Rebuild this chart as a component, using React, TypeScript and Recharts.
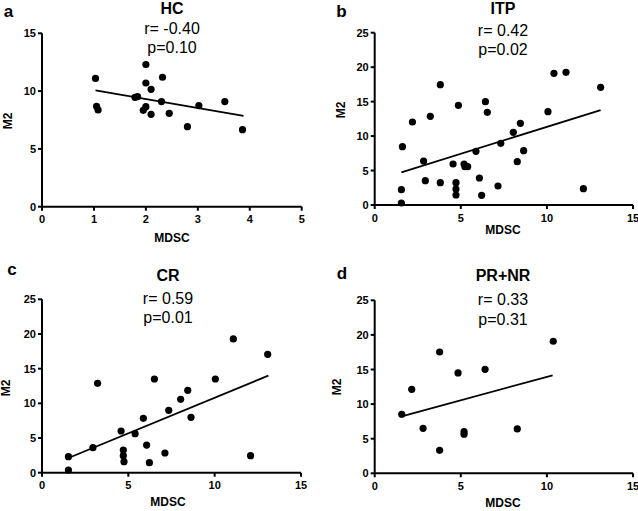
import React from "react";
import { ScatterChart, Scatter, XAxis, YAxis, ReferenceLine } from "recharts";

// panel a: HC
const hcMdsc = [1.03, 1.05, 1.08, 2.0, 2.32, 2.0, 2.1, 1.79, 1.84, 2.3, 2.0, 1.95, 2.1, 2.45, 2.8, 3.02, 3.52, 3.86];
const hcM2 = [11.1, 8.68, 8.37, 12.3, 11.2, 10.7, 10.15, 9.46, 9.52, 9.09, 8.65, 8.34, 7.99, 8.08, 6.92, 8.74, 9.09, 6.66];
const hcFit = [
  { x: 1.03, y: 10.07 },
  { x: 3.88, y: 7.85 },
];

// panel b: ITP
const itpMdsc = [
  1.55, 1.55, 1.61, 2.19, 2.84, 2.94, 3.23, 3.81, 3.81, 4.55, 4.72, 4.72, 4.72, 4.86, 5.19, 5.24, 5.4,
  5.88, 6.08, 6.21, 6.43, 6.54, 7.16, 7.32, 8.05, 8.28, 8.46, 8.65, 10.06, 10.41, 11.11, 12.12, 13.12,
];
const itpM2 = [
  0.29, 2.22, 8.46, 12.04, 6.38, 3.53, 12.86, 17.46, 3.24, 5.95, 3.24, 2.32, 1.45, 14.46, 5.95, 5.56, 5.56,
  7.79, 3.92, 1.4, 14.99, 13.44, 2.76, 8.95, 10.54, 6.29, 11.85, 7.88, 13.54, 19.1, 19.25, 2.37, 17.07,
];
const itpFit = [
  { x: 1.55, y: 4.74 },
  { x: 13.12, y: 13.78 },
];

// panel c: CR
const crMdsc = [
  1.53, 1.53, 2.95, 3.22, 4.58, 4.71, 4.71, 4.75, 5.39, 5.87, 6.06, 6.22, 6.51, 7.12, 7.34, 8.03, 8.44,
  8.63, 10.04, 11.08, 12.08, 13.07,
];
const crM2 = [
  0.38, 2.31, 3.61, 12.88, 6.01, 3.27, 2.45, 1.59, 5.63, 7.84, 3.99, 1.44, 13.51, 2.84, 8.99, 10.58, 11.88,
  7.98, 13.51, 19.28, 2.45, 17.07,
];
const crFit = [
  { x: 1.53, y: 2.12 },
  { x: 13.11, y: 13.99 },
];

// panel d: PR+NR
const prnrMdsc = [1.57, 2.15, 2.81, 3.77, 3.77, 4.84, 5.19, 5.19, 6.41, 8.28, 10.37];
const prnrM2 = [8.53, 12.14, 6.5, 17.53, 3.32, 14.5, 6.02, 5.64, 15.03, 6.41, 19.08];
const prnrFit = [
  { x: 1.57, y: 8.24 },
  { x: 10.33, y: 14.16 },
];

const ticksA_x = [0, 1, 2, 3, 4, 5];
const ticksA_y = [0, 5, 10, 15];
const ticks15 = [0, 5, 10, 15];
const ticks25 = [0, 5, 10, 15, 20, 25];

const toPoints = (xs: number[], ys: number[]) => xs.map((x, i) => ({ x, y: ys[i] }));

const FONT = "'Liberation Sans', Arial, sans-serif";

const XTick = (props: any) => (
  <text
    x={props.x}
    y={props.y + 10.5}
    textAnchor="middle"
    fontSize={11}
    fontWeight={700}
    fontFamily={FONT}
    fill="#000"
  >
    {props.payload.value}
  </text>
);

const YTick = (props: any) => (
  <text
    x={props.x}
    y={props.y + 4}
    textAnchor="end"
    fontSize={11}
    fontWeight={700}
    fontFamily={FONT}
    fill="#000"
  >
    {props.payload.value}
  </text>
);

const Dot = (props: any) => <circle cx={props.cx} cy={props.cy} r={3.6} fill="#000" />;

interface PanelProps {
  left: number;
  top: number;
  width: number;
  height: number;
  plot: { x0: number; x1: number; y0: number; y1: number };
  xDomain: [number, number];
  yDomain: [number, number];
  xTicks: number[];
  yTicks: number[];
  points: { x: number; y: number }[];
  fit: { x: number; y: number }[];
}

function Panel({ left, top, width, height, plot, xDomain, yDomain, xTicks, yTicks, points, fit }: PanelProps) {
  const xAxisH = 30;
  const margin = {
    top: plot.y0 - top,
    right: left + width - plot.x1,
    bottom: top + height - plot.y1 - xAxisH,
    left: 0,
  };
  return (
    <div style={{ position: "absolute", left, top }}>
      <ScatterChart width={width} height={height} margin={margin}>
        <XAxis
          type="number"
          dataKey="x"
          domain={xDomain}
          ticks={xTicks}
          height={xAxisH}
          axisLine={{ stroke: "#000", strokeWidth: 2 }}
          tickLine={{ stroke: "#000", strokeWidth: 2 }}
          tickSize={4}
          tickMargin={2}
          tick={<XTick />}
          interval={0}
        />
        <YAxis
          type="number"
          dataKey="y"
          domain={yDomain}
          ticks={yTicks}
          width={plot.x0 - left}
          axisLine={{ stroke: "#000", strokeWidth: 2 }}
          tickLine={{ stroke: "#000", strokeWidth: 2 }}
          tickSize={4}
          tickMargin={2}
          tick={<YTick />}
          interval={0}
        />
        <ReferenceLine
          segment={fit}
          stroke="#000"
          strokeWidth={1.8}
          ifOverflow="visible"
        />
        <Scatter data={points} fill="#000" shape={Dot} isAnimationActive={false} />
      </ScatterChart>
    </div>
  );
}

interface TextProps {
  x: number;
  y: number;
  size: number;
  bold?: boolean;
  rotate?: boolean;
  children: React.ReactNode;
}

function T({ x, y, size, bold, rotate, children }: TextProps) {
  return (
    <div
      style={{
        position: "absolute",
        left: x,
        top: y,
        transform: `translate(-50%, -50%)${rotate ? " rotate(-90deg)" : ""}`,
        fontSize: size,
        fontWeight: bold ? 700 : 400,
        lineHeight: 1,
        whiteSpace: "nowrap",
        fontFamily: FONT,
        color: "#000",
      }}
    >
      {children}
    </div>
  );
}

export default function App() {
  return (
    <div
      style={{
        position: "absolute",
        left: 0,
        top: 0,
        width: 638,
        height: 511,
        background: "#fff",
        overflow: "hidden",
        fontFamily: FONT,
      }}
    >
      <Panel
        left={0}
        top={0}
        width={319}
        height={255}
        plot={{ x0: 42, x1: 301.7, y0: 33.3, y1: 206.7 }}
        xDomain={[0, 5]}
        yDomain={[0, 15]}
        xTicks={ticksA_x}
        yTicks={ticksA_y}
        points={toPoints(hcMdsc, hcM2)}
        fit={hcFit}
      />
      <Panel
        left={319}
        top={0}
        width={319}
        height={255}
        plot={{ x0: 374.7, x1: 633, y0: 32.7, y1: 205 }}
        xDomain={[0, 15]}
        yDomain={[0, 25]}
        xTicks={ticks15}
        yTicks={ticks25}
        points={toPoints(itpMdsc, itpM2)}
        fit={itpFit}
      />
      <Panel
        left={0}
        top={255}
        width={319}
        height={256}
        plot={{ x0: 42, x1: 301, y0: 299.3, y1: 472.7 }}
        xDomain={[0, 15]}
        yDomain={[0, 25]}
        xTicks={ticks15}
        yTicks={ticks25}
        points={toPoints(crMdsc, crM2)}
        fit={crFit}
      />
      <Panel
        left={319}
        top={255}
        width={319}
        height={256}
        plot={{ x0: 374.7, x1: 633, y0: 300.3, y1: 473.3 }}
        xDomain={[0, 15]}
        yDomain={[0, 25]}
        xTicks={ticks15}
        yTicks={ticks25}
        points={toPoints(prnrMdsc, prnrM2)}
        fit={prnrFit}
      />

      {/* panel a texts */}
      <T x={8.5} y={11} size={17} bold>a</T>
      <T x={172} y={9} size={16} bold>HC</T>
      <T x={172} y={28.5} size={16}>r= -0.40</T>
      <T x={172} y={47.5} size={16}>p=0.10</T>
      <T x={172} y={238} size={12} bold>MDSC</T>
      <T x={7.5} y={121} size={12} bold rotate>M2</T>

      {/* panel b texts */}
      <T x={341.5} y={11} size={17} bold>b</T>
      <T x={503} y={9} size={16} bold>ITP</T>
      <T x={503} y={30.5} size={16}>r= 0.42</T>
      <T x={503} y={50} size={16}>p=0.02</T>
      <T x={503} y={230} size={12} bold>MDSC</T>
      <T x={340.5} y={110} size={12} bold rotate>M2</T>

      {/* panel c texts */}
      <T x={12} y={269} size={17} bold>c</T>
      <T x={168} y={276} size={16} bold>CR</T>
      <T x={168} y={298.5} size={16}>r= 0.59</T>
      <T x={168} y={318} size={16}>p=0.01</T>
      <T x={168} y={502} size={12} bold>MDSC</T>
      <T x={5.5} y={388} size={12} bold rotate>M2</T>

      {/* panel d texts */}
      <T x={342} y={273} size={17} bold>d</T>
      <T x={503} y={276} size={16} bold>PR+NR</T>
      <T x={503} y={300} size={16}>r= 0.33</T>
      <T x={503} y={319.5} size={16}>p=0.31</T>
      <T x={503} y={503} size={12} bold>MDSC</T>
      <T x={336.5} y={387} size={12} bold rotate>M2</T>
    </div>
  );
}
